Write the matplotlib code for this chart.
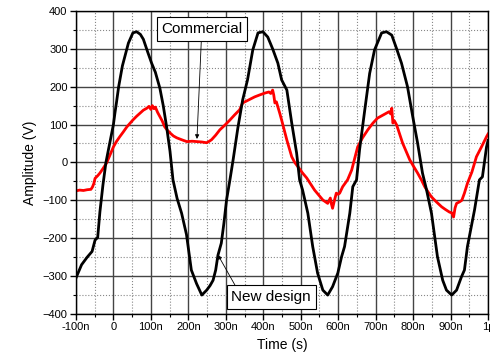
import numpy as np
from matplotlib import pyplot as plt
from matplotlib.ticker import MultipleLocator

# time in ns, amplitude in V
new_t = [-100, -85, -70, -57, -49, -42, -36, -28, -20, -10, 0, 4, 8, 14, 24, 40, 52, 62, 72, 80, 92,
         102, 112, 124, 133, 142, 151, 159, 170, 182, 195, 208, 222, 236, 249, 258, 266, 273, 279,
         288, 295, 302, 311, 320, 332, 345, 358, 372, 386, 399, 412, 425, 439, 449, 463, 476, 489,
         497, 505, 519, 532, 545, 559, 572, 585, 599, 609, 617, 631, 639, 649, 657, 671, 684, 697,
         716, 729, 743, 756, 769, 785, 799, 812, 825, 836, 849, 865, 879, 889, 903, 916, 929, 937,
         945, 964, 977, 985, 996, 1000]
new_v = [-305, -270, -250, -235, -205, -198, -130, -60, 0, 50, 100, 130, 157, 200, 255, 315, 342, 345,
         338, 325, 290, 262, 238, 196, 150, 94, 30, -46, -95, -134, -190, -284, -320, -350, -337,
         -325, -311, -284, -245, -213, -160, -99, -46, 10, 90, 165, 218, 297, 342, 345, 331, 300,
         262, 218, 191, 104, 25, -46, -73, -134, -222, -292, -337, -350, -328, -292, -249, -222,
         -134, -64, -46, 33, 139, 235, 297, 342, 345, 336, 300, 262, 200, 121, 51, -28, -73, -134,
         -249, -311, -337, -350, -337, -302, -284, -222, -125, -46, -38, 41, 58]

com_t = [-100, -90, -80, -70, -60, -56, -52, -49, -42, -36, -27, -18, -9, 0, 8, 17, 26, 36, 44, 52,
         62, 71, 80, 89, 95, 100, 104, 108, 112, 118, 124, 130, 137, 144, 151, 160, 169, 182, 196,
         210, 223, 236, 249, 256, 262, 273, 284, 297, 311, 324, 337, 345, 361, 377, 390, 404, 415,
         420, 425, 428, 431, 435, 439, 444, 449, 456, 463, 470, 476, 484, 493, 505, 516, 527, 537,
         548, 559, 566, 572, 576, 579, 582, 585, 590, 595, 600, 604, 612, 625, 636, 644, 652, 665,
         679, 692, 705, 718, 729, 736, 740, 743, 746, 750, 756, 764, 772, 781, 791, 801, 812, 822,
         831, 840, 849, 862, 876, 886, 897, 903, 908, 912, 916, 924, 930, 937, 945, 957, 969, 982,
         996, 1000]
com_v = [-75, -73, -74, -72, -71, -65, -55, -42, -35, -28, -15, -1, 20, 41, 55, 68, 80, 94, 103, 112,
         122, 130, 138, 143, 148, 140, 150, 142, 146, 132, 121, 110, 94, 85, 78, 70, 65, 60, 55,
         56, 55, 54, 52, 56, 60, 72, 86, 98, 112, 126, 139, 157, 165, 173, 178, 183, 186, 182, 191,
         178, 157, 160, 147, 130, 112, 85, 59, 35, 15, 0, -12, -28, -41, -58, -73, -86, -99, -104,
         -108, -100, -94, -110, -121, -100, -81, -84, -81, -64, -46, -20, 10, 41, 65, 86, 103, 117,
         124, 130, 134, 128, 143, 104, 110, 99, 75, 51, 30, 7, -10, -28, -46, -64, -78, -91, -104,
         -117, -124, -131, -133, -144, -120, -108, -104, -100, -81, -55, -25, 15, 40, 68, 75]

x_ticks = [-100, 0, 100, 200, 300, 400, 500, 600, 700, 800, 900, 1000]
x_labels = ['-100n', '0', '100n', '200n', '300n', '400n', '500n', '600n', '700n', '800n', '900n', '1\u00b5']
y_ticks = [-400, -300, -200, -100, 0, 100, 200, 300, 400]

plt.rcParams['font.family'] = ['Liberation Sans', 'DejaVu Sans']

fig = plt.figure(figsize=(4.9, 3.63), dpi=100)
ax = fig.add_axes([0.155, 0.135, 0.841, 0.835])

ax.plot(com_t, com_v, color='red', lw=2.0, zorder=3)
ax.plot(new_t, new_v, color='black', lw=2.0, zorder=4)

ax.set_xlim(-100, 1000)
ax.set_ylim(-400, 400)
ax.set_xticks(x_ticks)
ax.set_xticklabels(x_labels)
ax.set_yticks(y_ticks)
ax.xaxis.set_minor_locator(MultipleLocator(50))
ax.yaxis.set_minor_locator(MultipleLocator(50))
ax.tick_params(which='major', direction='out', length=4, width=1, labelsize=8, pad=2)
ax.tick_params(which='minor', direction='out', length=2, width=0.8)

ax.grid(which='major', color='#444444', lw=1.0, ls='-', zorder=1)
ax.grid(which='minor', color='#888888', lw=0.8, ls=':', zorder=1)
for s in ax.spines.values():
    s.set_linewidth(1.0)
    s.set_zorder(5)

ax.set_xlabel('Time (s)', fontsize=10, labelpad=4)
ax.set_ylabel('Amplitude (V)', fontsize=10, labelpad=4)

box = dict(boxstyle='square,pad=0.3', fc='white', ec='black', lw=0.8)
ax.annotate('Commercial', xy=(223, 62), xytext=(236, 352), ha='center', va='center',
            fontsize=11, bbox=box, zorder=6,
            arrowprops=dict(arrowstyle='-|>', color='black', lw=0.6, mutation_scale=6, shrinkA=0, shrinkB=0))
ax.annotate('New design', xy=(279, -244), xytext=(421, -355), ha='center', va='center',
            fontsize=11, bbox=box, zorder=6,
            arrowprops=dict(arrowstyle='-|>', color='black', lw=0.6, mutation_scale=6,
                            shrinkA=0, shrinkB=0, relpos=(0.08, 1.0)))

fig.savefig('out.png', dpi=100)
